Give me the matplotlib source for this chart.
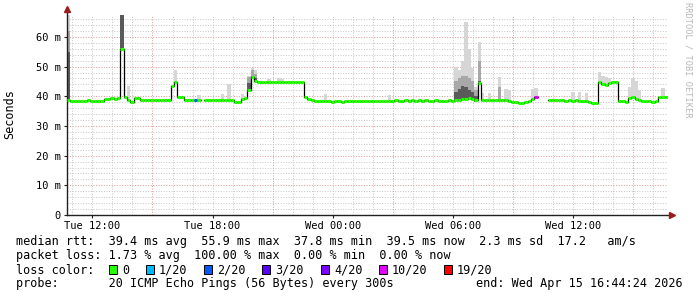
import numpy as np
import matplotlib
matplotlib.use("Agg")
import matplotlib.pyplot as plt
from matplotlib.patches import Rectangle

# median rtt (ms), one value every 10 minutes from Tue 10:44, nan = 100% loss
median = [38.6, 38.5, 38.5, 38.4, 38.5, 38.5, 38.6, 38.4, 38.5, 38.5, 38.4,
          39.1, 39.2, 39.3, 39.2, 39.3, 55.9, 39.7, 38.9, 38.1, 39.4, 39.5,
          38.9, 38.7, 38.8, 38.8, 38.7, 38.8, 38.6, 38.7, 38.8,
          43.6, 44.9, 39.9, 39.8, 38.9, 38.8, 38.7, 38.7, 38.8, np.nan,
          38.8, 38.7, 38.8, 38.8, 38.7, 38.8, 38.8, 38.9, 38.7,
          38.0, 38.2, 39.0, 39.5, 42.0, 46.5, 45.2,
          44.9, 44.8, 44.9, 44.9, 44.8, 44.9, 44.8, 44.9, 44.9, 44.8, 44.9, 44.9, 44.8, 44.9,
          39.9, 39.2, 38.6,
          38.5, 38.4, 38.5, 38.3, 38.4, 38.2, 38.3, 38.4, 38.2, 38.3,
          38.4, 38.5, 38.3, 38.4, 38.3, 38.4, 38.5, 38.4, 38.3, 38.4,
          38.5, 38.4, 38.4, 38.5, 38.6, 38.5, 38.4, 38.6, 38.5, 38.6,
          38.5, 38.6, 38.5, 38.6, 38.5, 38.4, 38.6, 38.5, 38.5, 38.4, 38.6, 38.5,
          38.7, 38.9, 39.0, 39.2, 39.4, 39.0, 38.6, 44.5,
          38.8, 38.9, 38.7, 38.8, 38.8, 38.7, 38.8, 38.6, 38.4, 38.2,
          38.0, 37.8, 37.9, 38.0, 38.3, 39.2, 39.6, np.nan, np.nan, np.nan,
          38.8, 38.7, 38.6, 38.7, 38.6, 38.5, 38.6, 38.5, 38.6, 38.5, 38.4, 38.5,
          38.0, 37.8, 37.8, 44.9, 44.2, 43.8, 44.5, 44.9, 44.9,
          38.5, 38.3, 38.0, 39.3, 39.6, 39.0, 38.7, 38.4, 38.4, 38.3,
          38.2, 38.3, 39.6, 39.7, 39.6]

# lost pings (of 20) where not zero
loss_idx = [38, 40, 140, 141, 142, 143]
loss_pings = [2, 20, 10, 20, 20, 20]

# smoke: highest ping where it sticks out of the median line
smoke_idx = [0, 16, 18, 32, 39, 46, 48, 52, 54, 55, 56, 60, 63, 64, 77, 96,
             116, 117, 118, 119, 120, 121, 122, 123, 124, 126, 129, 131, 132,
             139, 140, 151, 153, 155, 159, 160, 161, 162, 168, 169, 170, 171, 178]
smoke_top = [67.5, 67.5, 43.5, 48.9, 40.4, 40.8, 44.1, 40.8, 47.0, 49.5, 49.0, 45.8, 46.1, 45.9, 40.8, 40.3,
             50.0, 49.0, 52.0, 65.0, 56.0, 49.5, 43.0, 58.4, 41.0, 41.2, 46.6, 42.5, 42.0,
             42.5, 42.8, 41.5, 41.5, 41.0, 48.3, 47.0, 46.5, 46.0, 43.0, 46.0, 45.0, 42.0, 42.8]
# middle and dark inner smoke
mid_idx = [0, 16, 54, 55, 56, 116, 117, 118, 119, 120, 121, 122, 123, 129]
mid_top = [62.0, 67.5, 46.5, 49.0, 47.5, 45.0, 46.0, 47.0, 47.0, 46.0, 45.0, 42.0, 52.0, 43.0]
dark_idx = [0, 16, 54, 55, 56, 116, 117, 118, 119, 120, 121, 122, 123]
dark_top = [55.0, 67.5, 44.5, 47.0, 46.0, 41.5, 42.5, 43.5, 43.0, 42.0, 41.5, 40.0, 45.0]

loss_levels = [0, 1, 2, 3, 4, 10, 19]
loss_labels = ["0", "1/20", "2/20", "3/20", "4/20", "10/20", "19/20"]
loss_colors = ["#26ff00", "#00b8ff", "#0059ff", "#5e00ff", "#7e00ff", "#dd00ff", "#ff0000"]

tick_pos = [12, 18, 24, 30, 36]
tick_names = ["Tue 12:00", "Tue 18:00", "Wed 00:00", "Wed 06:00", "Wed 12:00"]

MONO = "DejaVu Sans Mono"
W, H = 697, 297

median = np.array(median)
n = len(median)
step = 1 / 6
t0 = 10 + 44 / 60
t = t0 + np.arange(n) * step

loss = np.zeros(n)
loss[loss_idx] = loss_pings

fig = plt.figure(figsize=(W / 100, H / 100), dpi=100)
ax = fig.add_axes([67 / W, 82 / H, 601 / W, 200.3 / H])
ax.set_xlim(t0, t0 + 30)
ax.set_ylim(0, 67.5)

# grid
for y in np.arange(2, 67, 2):
    if y % 10 == 0:
        continue
    ax.axhline(y, color="#c8c8c8", lw=0.72, dashes=(1, 1.6), zorder=0)
for y in range(10, 61, 10):
    ax.axhline(y, color="#e09a9a", lw=0.72, dashes=(1, 1.6), zorder=0)
for h in range(11, 41):
    c = "#e09a9a" if h % 6 == 3 else "#c8c8c8"
    ax.axvline(h, color=c, lw=0.72, dashes=(1, 1.6), zorder=0)

# smoke
for idx, top, col, z in [(smoke_idx, smoke_top, "#d6d6d6", 1),
                         (mid_idx, mid_top, "#a8a8a8", 1.5),
                         (dark_idx, dark_top, "#5a5a5a", 2)]:
    b = median[idx] - 0.4
    ax.bar(t[idx], np.array(top) - b, bottom=b, width=step,
           align="edge", color=col, lw=0, zorder=z)

# median line
ax.plot(np.append(t, t[-1] + step), np.append(median, median[-1]),
        drawstyle="steps-post", color="black", lw=0.9, zorder=3)
ok = ~np.isnan(median)
seg_colors = []
for l in loss[ok]:
    k = max(i for i, lv in enumerate(loss_levels) if lv <= l)
    seg_colors.append(loss_colors[k])
ax.hlines(median[ok], t[ok], t[ok] + step, colors=seg_colors, lw=2.2, zorder=4)

# axes
for s in ax.spines.values():
    s.set_visible(False)
ax.plot([0, 0], [0, 1.025], color="#202020", lw=1, transform=ax.transAxes, clip_on=False)
ax.plot([0, 1.006], [0, 0], color="#202020", lw=1, transform=ax.transAxes, clip_on=False)
ax.plot([0], [1.03], marker="^", ms=4.5, color="#9b1c1c", transform=ax.transAxes, clip_on=False)
ax.plot([1.006], [0], marker=">", ms=4.5, color="#9b1c1c", transform=ax.transAxes, clip_on=False)

ax.set_yticks(range(0, 61, 10))
ax.set_yticklabels(["0"] + ["%d m" % v for v in range(10, 61, 10)])
ax.set_xticks(tick_pos)
ax.set_xticklabels(tick_names)
ax.tick_params(axis="both", length=2, width=0.8, color="#202020", labelsize=7.5, pad=2.5)
for lab in ax.get_xticklabels() + ax.get_yticklabels():
    lab.set_family(MONO)

fig.text(10 / W, 1 - 114 / H, "Seconds", rotation=90, ha="center", va="center",
         fontsize=8.5, family=MONO)
fig.text(688 / W, 1 - 60 / H, "RRDTOOL / TOBI OETIKER", rotation=270, ha="center",
         va="center", fontsize=6.2, family=MONO, color="#b8b8b8")

# legend
rows = [
    "median rtt:  39.4 ms avg  55.9 ms max  37.8 ms min  39.5 ms now  2.3 ms sd  17.2   am/s",
    "packet loss: 1.73 % avg  100.00 % max  0.00 % min  0.00 % now",
    "loss color:",
    "probe:       20 ICMP Echo Pings (56 Bytes) every 300s",
]
for r, yy in zip(rows, [241, 255.5, 270, 284]):
    fig.text(16 / W, 1 - yy / H, r, fontsize=8.5, family=MONO, va="center")
fig.text(683 / W, 1 - 284 / H, "end: Wed Apr 15 16:44:24 2026", fontsize=8.5,
         family=MONO, va="center", ha="right")

sq_x = [109, 146, 204, 262, 321, 379, 444]
for x, c, lab in zip(sq_x, loss_colors, loss_labels):
    fig.patches.append(Rectangle((x / W, 1 - 274 / H), 8 / W, 9 / H, facecolor=c,
                                 edgecolor="black", lw=0.7, transform=fig.transFigure))
    fig.text((x + 13) / W, 1 - 270 / H, lab, fontsize=8.5, family=MONO, va="center")

fig.savefig("out.png", dpi=100, facecolor="white")
